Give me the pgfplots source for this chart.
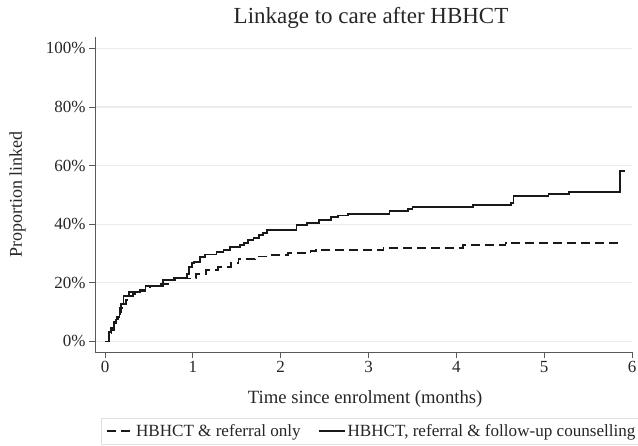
\documentclass[border=0pt]{standalone}
\usepackage{fontspec}
\setmainfont{Liberation Serif}
\usepackage{pgfplots}
\pgfplotsset{compat=1.18}
\begin{document}
\begin{tikzpicture}
\begin{axis}[
  scale only axis, width=537pt, height=315pt,
  xmin=-0.114, xmax=6, ymin=-3.6, ymax=103.9,
  axis x line*=bottom, axis y line*=left,
  axis line style={black!65, line width=0.9pt},
  tick style={black!65, line width=0.9pt},
  tick align=outside, major tick length=6pt,
  xtick={0,1,2,3,4,5,6},
  ytick={0,20,40,60,80,100},
  yticklabel={\pgfmathprintnumber{\tick}\%},
  /pgf/number format/assume math mode=true,
  ticklabel style={font=\fontsize{17}{20}\selectfont, text=black!85},
  ymajorgrids, grid style={black!8, line width=1.3pt},
  title={Linkage to care after HBHCT},
  title style={font=\fontsize{23}{26}\selectfont, at={(axis description cs:0.514,1.024)}, anchor=base, text=black!85},
  xlabel={Time since enrolment (months)},
  xlabel style={font=\fontsize{18.7}{22}\selectfont, at={(axis description cs:0.503,-0.162)}, anchor=base, text=black!85},
  ylabel={Proportion linked},
  ylabel style={font=\fontsize{18}{22}\selectfont, at={(axis description cs:-0.136,0.5)}, anchor=base, text=black!85},
  legend columns=2,
  legend style={at={(axis description cs:0.011,-0.21)}, anchor=north west, draw=black!12, line width=0.6pt,
    font=\fontsize{17.1}{20}\selectfont, text=black!85, inner xsep=5pt, inner ysep=4pt,
    /tikz/every even column/.append style={column sep=15pt}},
  legend image code/.code={\draw[#1] (0pt,0pt) -- (26pt,0pt);},
]
\coordinate (ll) at (rel axis cs:0,0);
\addplot[const plot, black!90, line width=1.8pt, dash pattern=on 9pt off 5pt] coordinates {
(0,0) (0.045,2.0) (0.075,4.0) (0.10,5.5) (0.125,7.5) (0.15,9.5) (0.175,11.5)
(0.19,12.9) (0.24,14.2) (0.28,15.4) (0.32,16.3) (0.38,17.2) (0.46,18.0) (0.51,18.8)
(0.59,19.5) (0.73,21.1) (0.80,21.5) (1.04,23.1) (1.15,24.5) (1.29,25.4) (1.43,26.7)
(1.52,28.2) (1.71,29.0) (1.87,29.4) (2.08,30.1) (2.34,30.8) (2.40,31.3) (3.17,32.0)
(4.08,32.8) (4.56,33.6) (5.88,33.6)
};
\addlegendentry{HBHCT \& referral only}
\addplot[const plot, black!90, line width=1.8pt] coordinates {
(0,0) (0.045,3.2) (0.07,4.7) (0.105,6.6) (0.13,8.3) (0.165,10.0) (0.18,12.9)
(0.21,15.4) (0.27,16.8) (0.40,17.6) (0.46,18.8) (0.66,21.0) (0.78,21.7) (0.93,23.1)
(0.96,25.4) (0.99,26.7) (1.01,27.1) (1.08,28.8) (1.14,29.7) (1.27,30.5) (1.35,31.1)
(1.42,32.2) (1.54,32.8) (1.58,33.6) (1.63,34.5) (1.69,35.4) (1.75,36.2) (1.80,37.0)
(1.84,38.1) (2.18,39.8) (2.30,40.4) (2.44,41.5) (2.57,42.4) (2.65,43.0) (2.77,43.6)
(3.24,44.4) (3.45,45.3) (3.50,46.0) (4.19,46.5) (4.62,47.2) (4.65,49.6) (5.05,50.2)
(5.28,51.0) (5.86,58.1) (5.92,58.1)
};
\addlegendentry{HBHCT, referral \& follow-up counselling}
\end{axis}
\pgfresetboundingbox
\path (ll) ++(-95pt,-93pt) rectangle ++(638pt,445pt);
\end{tikzpicture}
\end{document}
